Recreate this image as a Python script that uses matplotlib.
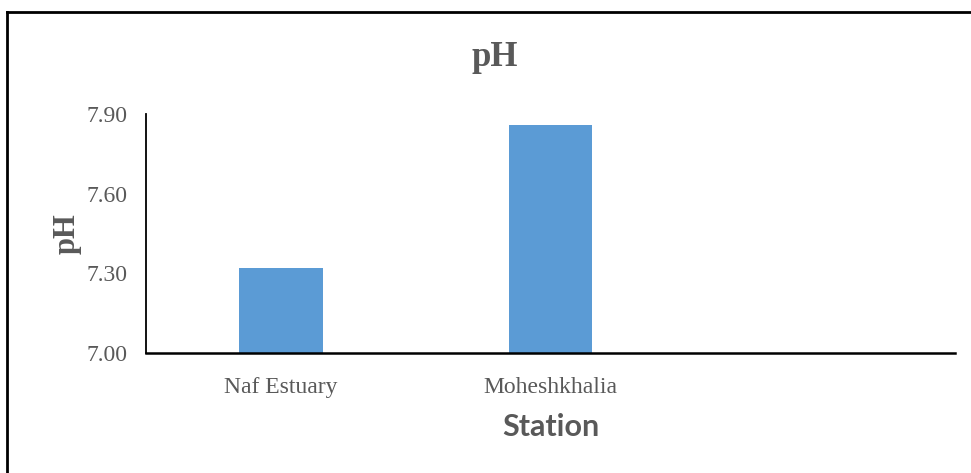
import matplotlib.pyplot as plt
from matplotlib.lines import Line2D

stations = ["Naf Estuary", "Moheshkhalia", ""]
ph_values = [7.32, 7.86, None]
y_ticks = [7.00, 7.30, 7.60, 7.90]

bar_color = "#5B9BD5"
text_color = "#595959"

fig = plt.figure(figsize=(9.71, 4.73), dpi=100)
ax = fig.add_axes([146 / 971, 1 - 353 / 473, (955 - 146) / 971, (353 - 114) / 473])

xs = list(range(len(stations)))
for x, v in zip(xs, ph_values):
    if v is not None:
        ax.bar(x, v - 7.0, bottom=7.0, width=0.31, color=bar_color, zorder=2)

ax.set_xlim(-0.5, len(stations) - 0.5)
ax.set_ylim(7.0, 7.9)
ax.set_yticks(y_ticks)
ax.set_yticklabels([f"{t:.2f}" for t in y_ticks], family="Liberation Serif", fontsize=17, color=text_color)
ax.set_xticks(xs)
ax.set_xticklabels(stations, family="Liberation Serif", fontsize=17, color=text_color)
ax.tick_params(axis="both", length=0)
ax.tick_params(axis="y", pad=13)
ax.tick_params(axis="x", pad=17)

for side in ["top", "right"]:
    ax.spines[side].set_visible(False)
ax.spines["left"].set_linewidth(1.3)
ax.spines["bottom"].set_linewidth(1.8)
ax.spines["left"].set_color("black")
ax.spines["bottom"].set_color("black")

ax.set_xlabel("Station", family="Lato", fontweight="bold", fontsize=22, color=text_color, labelpad=11)
ax.set_ylabel("pH", family="Liberation Serif", fontweight="bold", fontsize=22, color=text_color, labelpad=4)
fig.text(495 / 971, 1 - 57 / 473, "pH", family="Liberation Serif", fontweight="bold",
         fontsize=25, color=text_color, ha="center", va="center")

# outer chart border (left and top edges visible in the picture)
fig.add_artist(Line2D([7 / 971, 7 / 971], [0, 1 - 12 / 473], transform=fig.transFigure, color="black", lw=2))
fig.add_artist(Line2D([7 / 971, 1], [1 - 12 / 473, 1 - 12 / 473], transform=fig.transFigure, color="black", lw=2))

fig.savefig("out.png", dpi=100)
